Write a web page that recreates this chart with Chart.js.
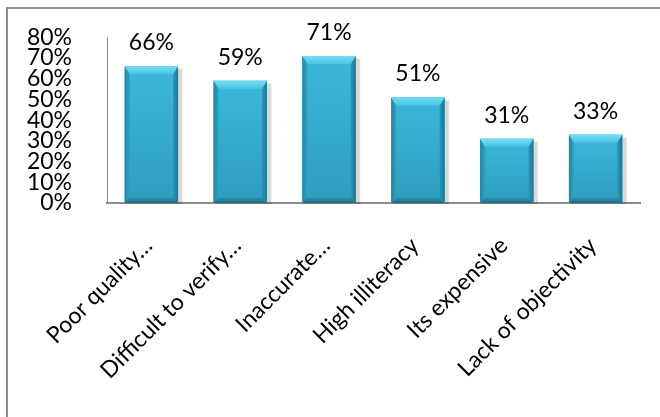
<!DOCTYPE html>
<html>
<head>
<meta charset="utf-8">
<script src="https://cdn.jsdelivr.net/npm/chart.js@4"></script>
<style>
  html, body { margin: 0; padding: 0; background: #fff; }
  #wrap { position: relative; width: 660px; height: 417px; overflow: hidden; }
  #frame { position: absolute; left: 6px; top: 7px; width: 720px; height: 460px;
           border-left: 2px solid #8c8c8c; border-top: 2px solid #8c8c8c; }
  canvas { position: absolute; left: 0; top: 0; }
</style>
</head>
<body>
<div id="wrap">
  <div id="frame"></div>
  <canvas id="chart" width="660" height="417"></canvas>
</div>
<script>
const categories = ['Poor quality…', 'Difficult to verify…', 'Inaccurate…', 'High illiteracy', 'Its expensive', 'Lack of objectivity'];
const shares = [66, 59, 71, 51, 31, 33];
const yMax = 80;
const yStep = 10;

const FONT = 'Lato, "Open Sans", sans-serif';

// soft drop shadow behind each bar, then a bevelled face on top
const bevelBars = {
  id: 'bevelBars',
  beforeDatasetsDraw(chart) {
    const ctx = chart.ctx;
    ctx.save();
    chart.getDatasetMeta(0).data.forEach(bar => {
      const { x, y, base, width } = bar.getProps(['x', 'y', 'base', 'width'], true);
      const l = x - width / 2;
      ctx.fillStyle = 'rgba(0,0,0,0.10)';
      ctx.fillRect(l + 2, y + 3, width + 2, base - y - 2);
      ctx.fillStyle = 'rgba(0,0,0,0.06)';
      ctx.fillRect(l + 1, y + 2, width + 4, base - y - 1);
    });
    ctx.restore();
  },
  afterDatasetsDraw(chart) {
    const ctx = chart.ctx;
    ctx.save();
    chart.getDatasetMeta(0).data.forEach(bar => {
      const { x, y, base, width } = bar.getProps(['x', 'y', 'base', 'width'], true);
      const l = x - width / 2, r = x + width / 2, h = base - y;
      const bt = Math.min(8, h / 3), bs = Math.min(5, h / 4);

      let g = ctx.createLinearGradient(0, y, 0, base);
      g.addColorStop(0, '#3ab7db');
      g.addColorStop(1, '#2e9dbe');
      ctx.fillStyle = g;
      ctx.fillRect(l, y, width, h);

      // left edge
      g = ctx.createLinearGradient(l, 0, l + bs, 0);
      g.addColorStop(0, '#22859f');
      g.addColorStop(1, '#2fa2c4');
      ctx.fillStyle = g;
      ctx.beginPath();
      ctx.moveTo(l, y); ctx.lineTo(l + bs, y + bt); ctx.lineTo(l + bs, base - bs); ctx.lineTo(l, base);
      ctx.closePath(); ctx.fill();

      // right edge
      g = ctx.createLinearGradient(r - bs, 0, r, 0);
      g.addColorStop(0, '#2b98b8');
      g.addColorStop(1, '#1d7690');
      ctx.fillStyle = g;
      ctx.beginPath();
      ctx.moveTo(r, y); ctx.lineTo(r - bs, y + bt); ctx.lineTo(r - bs, base - bs); ctx.lineTo(r, base);
      ctx.closePath(); ctx.fill();

      // bottom edge
      g = ctx.createLinearGradient(0, base - bs, 0, base);
      g.addColorStop(0, '#2a8fae');
      g.addColorStop(1, '#1c6f87');
      ctx.fillStyle = g;
      ctx.beginPath();
      ctx.moveTo(l, base); ctx.lineTo(l + bs, base - bs); ctx.lineTo(r - bs, base - bs); ctx.lineTo(r, base);
      ctx.closePath(); ctx.fill();

      // top bevel
      g = ctx.createLinearGradient(0, y, 0, y + bt);
      g.addColorStop(0, '#74dcf4');
      g.addColorStop(1, '#4ac3e4');
      ctx.fillStyle = g;
      ctx.beginPath();
      ctx.moveTo(l, y); ctx.lineTo(r, y); ctx.lineTo(r - bs, y + bt); ctx.lineTo(l + bs, y + bt);
      ctx.closePath(); ctx.fill();
    });
    ctx.restore();
  }
};

// percentage written above each bar
const valueLabels = {
  id: 'valueLabels',
  afterDatasetsDraw(chart) {
    const ctx = chart.ctx;
    ctx.save();
    ctx.font = '23px ' + FONT;
    ctx.fillStyle = '#000';
    ctx.textAlign = 'center';
    ctx.textBaseline = 'alphabetic';
    chart.getDatasetMeta(0).data.forEach((bar, i) => {
      ctx.fillText(shares[i] + '%', bar.x, bar.y - 16);
    });
    ctx.restore();
  }
};

new Chart(document.getElementById('chart'), {
  type: 'bar',
  data: {
    labels: categories,
    datasets: [{
      data: shares,
      backgroundColor: '#35aed2',
      borderWidth: 0,
      barPercentage: 0.6,
      categoryPercentage: 1
    }]
  },
  options: {
    responsive: false,
    animation: false,
    layout: { padding: { top: 37, right: 20, left: 0, bottom: 0 } },
    plugins: { legend: { display: false }, tooltip: { enabled: false } },
    scales: {
      x: {
        grid: { display: false },
        border: { display: true, color: '#8c8c8c', width: 2 },
        ticks: {
          color: '#000',
          font: { family: FONT, size: 23 },
          minRotation: 45,
          maxRotation: 45,
          autoSkip: false,
          padding: 21,
          labelOffset: -3
        },
        afterFit(scale) { scale.height = 214; }
      },
      y: {
        min: 0,
        max: yMax,
        grid: { display: false },
        border: { display: true, color: '#8c8c8c', width: 1 },
        ticks: {
          stepSize: yStep,
          autoSkip: false,
          color: '#000',
          font: { family: FONT, size: 23, lineHeight: 0.9 },
          padding: 27,
          callback: v => v + '%'
        },
        afterFit(scale) { scale.width = 107; }
      }
    }
  },
  plugins: [bevelBars, valueLabels]
});
</script>
</body>
</html>
